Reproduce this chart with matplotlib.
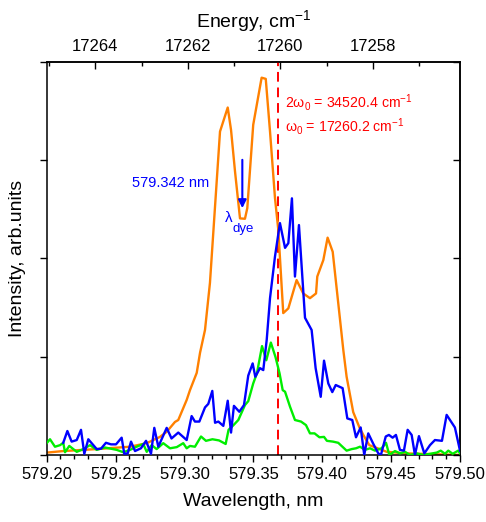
import numpy as np
import matplotlib.pyplot as plt

plt.rcParams['font.family'] = ['Liberation Sans', 'DejaVu Sans']
plt.rcParams['mathtext.fontset'] = 'custom'
plt.rcParams['mathtext.rm'] = 'Liberation Sans'
plt.rcParams['mathtext.it'] = 'Liberation Sans:italic'

# espectro naranja (dos picos con hueco en lambda_dye)
wl_orange = [579.2000, 579.2120, 579.2363, 579.2605, 579.2726, 579.2822, 579.2871,
             579.2931, 579.2955, 579.3016, 579.3040, 579.3089, 579.3113, 579.3149,
             579.3185, 579.3258, 579.3314, 579.3338, 579.3367, 579.3403, 579.3439,
             579.3456, 579.3499, 579.3560, 579.3590, 579.3621, 579.3657, 579.3681,
             579.3717, 579.3754, 579.3814, 579.3862, 579.3911, 579.3955, 579.3964,
             579.4008, 579.4039, 579.4076, 579.4153, 579.4177, 579.4225, 579.4269,
             579.4298, 579.4342, 579.4395, 579.4468, 579.4613, 579.5000]
int_orange = [0.006, 0.010, 0.015, 0.021, 0.030, 0.046, 0.059,
              0.084, 0.089, 0.140, 0.165, 0.209, 0.260, 0.318,
              0.438, 0.823, 0.884, 0.827, 0.721, 0.602, 0.601,
              0.628, 0.840, 0.960, 0.957, 0.823, 0.654, 0.573,
              0.361, 0.373, 0.445, 0.411, 0.399, 0.411, 0.454,
              0.496, 0.553, 0.517, 0.267, 0.199, 0.109, 0.071,
              0.051, 0.025, 0.018, 0.008, 0.004, 0.000]

# espectro azul
wl_blue = [579.2120, 579.2150, 579.2181, 579.2218, 579.2249, 579.2273, 579.2302,
           579.2363, 579.2394, 579.2430, 579.2467, 579.2503, 579.2544, 579.2563,
           579.2588, 579.2612, 579.2641, 579.2684, 579.2721, 579.2757, 579.2781,
           579.2810, 579.2871, 579.2906, 579.2955, 579.3016, 579.3052, 579.3076,
           579.3108, 579.3149, 579.3173, 579.3202, 579.3222, 579.3246, 579.3282,
           579.3314, 579.3338, 579.3359, 579.3398, 579.3432, 579.3463, 579.3495,
           579.3514, 579.3548, 579.3572, 579.3597, 579.3621, 579.3657, 579.3693,
           579.3730, 579.3754, 579.3780, 579.3802, 579.3831, 579.3875, 579.3923,
           579.3952, 579.3989, 579.4013, 579.4044, 579.4073, 579.4098, 579.4148,
           579.4182, 579.4218, 579.4245, 579.4279, 579.4305, 579.4334, 579.4371,
           579.4407, 579.4426, 579.4461, 579.4484, 579.4511, 579.4535, 579.4564,
           579.4593, 579.4620, 579.4649, 579.4673, 579.4702, 579.4741, 579.4782,
           579.4818, 579.4869, 579.4903, 579.4963, 579.5000]
int_blue = [0.031, 0.061, 0.034, 0.038, 0.064, 0.003, 0.040,
            0.015, 0.016, 0.031, 0.027, 0.027, 0.044, 0.003,
            0.004, 0.034, 0.010, 0.017, 0.036, 0.003, 0.069,
            0.021, 0.069, 0.042, 0.057, 0.038, 0.099, 0.085,
            0.085, 0.121, 0.130, 0.163, 0.082, 0.085, 0.074,
            0.138, 0.057, 0.125, 0.110, 0.127, 0.202, 0.233,
            0.199, 0.221, 0.216, 0.293, 0.399, 0.505, 0.590,
            0.527, 0.539, 0.653, 0.454, 0.585, 0.349, 0.318,
            0.221, 0.148, 0.240, 0.182, 0.160, 0.178, 0.170,
            0.093, 0.089, 0.045, 0.070, 0.000, 0.055, 0.028,
            0.004, 0.000, 0.047, 0.051, 0.044, 0.051, 0.013,
            0.011, 0.064, 0.051, 0.000, 0.048, 0.004, 0.025,
            0.038, 0.036, 0.102, 0.070, 0.011]

# espectro verde
wl_green = [579.2000, 579.2024, 579.2060, 579.2097, 579.2120, 579.2133, 579.2164,
            579.2218, 579.2266, 579.2314, 579.2363, 579.2423, 579.2508, 579.2556,
            579.2605, 579.2653, 579.2701, 579.2726, 579.2762, 579.2798, 579.2846,
            579.2895, 579.2944, 579.2991, 579.3016, 579.3040, 579.3076, 579.3120,
            579.3156, 579.3203, 579.3251, 579.3299, 579.3320, 579.3356, 579.3391,
            579.3439, 579.3463, 579.3499, 579.3526, 579.3563, 579.3594, 579.3627,
            579.3661, 579.3690, 579.3713, 579.3730, 579.3766, 579.3802, 579.3846,
            579.3882, 579.3911, 579.3944, 579.3980, 579.4013, 579.4034, 579.4078,
            579.4116, 579.4177, 579.4214, 579.4245, 579.4274, 579.4310, 579.4347,
            579.4383, 579.4431, 579.4463, 579.4487, 579.4528, 579.4564, 579.4601,
            579.4637, 579.4686, 579.4733, 579.4831, 579.4860, 579.4891, 579.4915,
            579.4947, 579.4987, 579.5000]
int_green = [0.030, 0.040, 0.021, 0.025, 0.031, 0.007, 0.023,
             0.008, 0.015, 0.025, 0.013, 0.019, 0.013, 0.007,
             0.013, 0.021, 0.028, 0.008, 0.025, 0.015, 0.030,
             0.017, 0.020, 0.030, 0.017, 0.023, 0.021, 0.047,
             0.036, 0.040, 0.037, 0.028, 0.064, 0.076, 0.089,
             0.127, 0.137, 0.182, 0.208, 0.277, 0.241, 0.286,
             0.249, 0.208, 0.165, 0.161, 0.123, 0.089, 0.085,
             0.076, 0.055, 0.055, 0.045, 0.046, 0.036, 0.034,
             0.031, 0.011, 0.015, 0.017, 0.021, 0.013, 0.017,
             0.011, 0.017, 0.031, 0.000, 0.010, 0.004, 0.008,
             0.000, 0.004, 0.000, 0.006, 0.011, 0.003, 0.011,
             0.003, 0.011, 0.004]

w0 = 17260.2          # cm-1
lambda_dye = 579.342  # nm
desp = 0.0047         # corrimiento de la escala superior, nm

fig = plt.figure(figsize=(4.86, 5.22), dpi=100)
ax = fig.add_axes([0.0961, 0.1284, 0.8504, 0.7529])

# linea de w0
ax.axvline(1e7 / w0, color='#ff0000', lw=1.4, ls=(0, (5, 3)), zorder=1)

ax.plot(wl_orange, int_orange, color='#ff8000', lw=1.7, zorder=2)
ax.plot(wl_green, int_green, color='#00ee00', lw=1.7, zorder=3)
ax.plot(wl_blue, int_blue, color='#0000ff', lw=1.7, zorder=4)

ax.set_xlim(579.2, 579.5)
ax.set_ylim(0, 1)
ax.set_xticks(np.arange(579.2, 579.501, 0.05))
ax.set_xticks(np.arange(579.2, 579.501, 0.01), minor=True)
ax.xaxis.set_major_formatter(plt.FormatStrFormatter('%.2f'))
ax.set_yticks(np.arange(0, 1.01, 0.25))
ax.tick_params(axis='x', which='major', direction='out', length=5, width=1, labelsize=12, pad=3.5)
ax.tick_params(axis='x', which='minor', direction='out', length=3, width=1)
ax.tick_params(axis='y', direction='out', length=5, width=1, labelleft=False)
for s in ax.spines.values():
    s.set_linewidth(1.1)

ax.set_xlabel('Wavelength, nm', fontsize=14, labelpad=8)
ax.set_ylabel('Intensity, arb.units', fontsize=14, labelpad=10)

# eje superior en energia
top = ax.secondary_xaxis('top', functions=(lambda x: 1e7 / (np.asarray(x) + desp),
                                          lambda e: 1e7 / np.asarray(e) - desp))
top.set_xticks([17258, 17260, 17262, 17264])
top.set_xticks(np.arange(17256, 17266, 1), minor=True)
top.tick_params(which='major', direction='in', length=5, width=1, labelsize=12, pad=6)
top.tick_params(which='minor', direction='in', length=3, width=1)
top.spines['top'].set_linewidth(1.1)
top.set_xlabel('Energy, cm$^{-1}$', fontsize=14, labelpad=8)

der = ax.secondary_yaxis('right')
der.set_yticks(np.arange(0, 1.01, 0.25))
der.tick_params(direction='in', length=5, width=1, labelright=False)
der.spines['right'].set_linewidth(1.1)

ax.text(0.577, 0.885, '2ω$_0$ = %.1f cm$^{-1}$' % (2 * w0), color='#ff0000',
        fontsize=10.2, transform=ax.transAxes, va='baseline')
ax.text(0.577, 0.824, 'ω$_0$ = %.1f cm$^{-1}$' % w0, color='#ff0000',
        fontsize=10.2, transform=ax.transAxes, va='baseline')

ax.text(0.206, 0.682, '%.3f nm' % lambda_dye, color='#0000ff', fontsize=10.5,
        transform=ax.transAxes, va='baseline')
ax.text(0.431, 0.593, 'λ', color='#0000ff', fontsize=11,
        transform=ax.transAxes, va='baseline')
ax.text(0.449, 0.568, 'dye', color='#0000ff', fontsize=9.5,
        transform=ax.transAxes, va='baseline')
ax.annotate('', xy=(lambda_dye, 0.628), xytext=(lambda_dye, 0.751),
            arrowprops=dict(arrowstyle='-|>', color='#0000ff', lw=1.5,
                            mutation_scale=12, shrinkA=0, shrinkB=0))

plt.savefig('out.png', dpi=100)
